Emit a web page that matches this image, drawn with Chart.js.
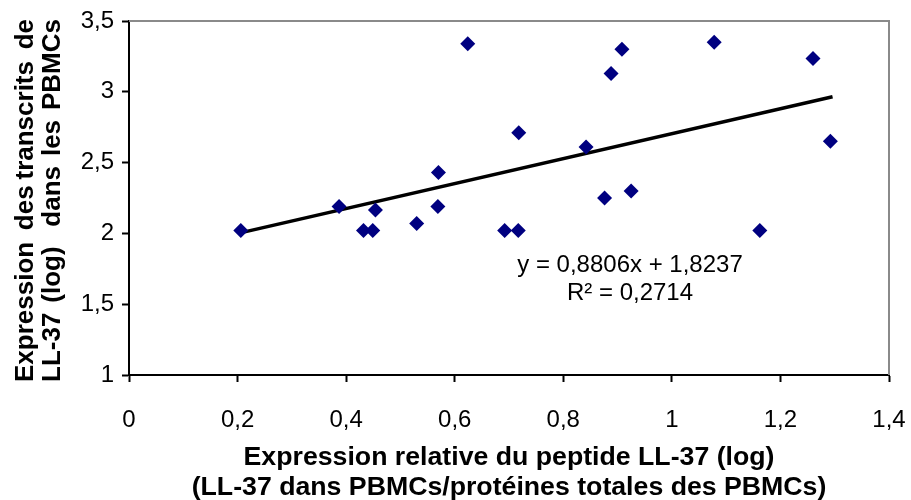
<!DOCTYPE html>
<html>
<head>
<meta charset="utf-8">
<script src="https://cdn.jsdelivr.net/npm/chart.js@4/dist/chart.umd.min.js"></script>
<style>
  html, body { margin: 0; padding: 0; background: #fff; }
  #wrap { width: 911px; height: 500px; }
</style>
</head>
<body>
<div id="wrap"><canvas id="chart"></canvas></div>
<script>
// données
const peptideLog = [0.206, 0.387, 0.432, 0.449, 0.454, 0.530, 0.569, 0.570, 0.624, 0.692, 0.717,
                    0.718, 0.842, 0.876, 0.888, 0.908, 0.925, 1.078, 1.162, 1.260, 1.292];
const transcritsLog = [2.02, 2.19, 2.02, 2.02, 2.165, 2.07, 2.19, 2.43, 3.34, 2.02, 2.02,
                       2.71, 2.61, 2.25, 3.13, 3.30, 2.30, 3.35, 2.02, 3.235, 2.65];
// courbe de tendance (extrémités)
const trendX = [0.205, 1.296];
const trendY = [2.004, 2.965];
const equationLines = ['y = 0,8806x + 1,8237', 'R\u00b2 = 0,2714'];
const xTitleLines = ['Expression relative du peptide LL-37 (log)', '(LL-37 dans PBMCs/prot\u00e9ines totales des PBMCs)'];
const yTitleLines = [['Expression', 'des', 'transcrits', 'de'], ['LL-37', '(log)', 'dans', 'les', 'PBMCs']];
const yTitleGaps = [[2, 1, 2], [1, 2, 1, 1]];

const FONT = '"Liberation Sans", Arial, sans-serif';
const fmt = v => String(v).replace('.', ',');

const points = peptideLog.map((x, i) => ({ x: x, y: transcritsLog[i] }));
const trend = trendX.map((x, i) => ({ x: x, y: trendY[i] }));

// textes, cadre et titres des axes
const decor = {
    id: 'decor',
    afterDraw(chart) {
        const ctx = chart.ctx;
        const a = chart.chartArea;
        ctx.save();
        // cadre gris haut/droite
        ctx.strokeStyle = '#8a8a8a';
        ctx.lineWidth = 2;
        ctx.beginPath();
        ctx.moveTo(a.left, a.top);
        ctx.lineTo(a.right, a.top);
        ctx.lineTo(a.right, a.bottom);
        ctx.stroke();

        ctx.fillStyle = '#000';
        // équation
        ctx.font = '24px ' + FONT;
        ctx.textAlign = 'center';
        ctx.textBaseline = 'alphabetic';
        ctx.fillText(equationLines[0], 630, 272);
        ctx.fillText(equationLines[1], 630, 300);

        // titre axe x
        ctx.font = 'bold 26.7px ' + FONT;
        ctx.fillText(xTitleLines[0], 509, 465);
        ctx.fillText(xTitleLines[1], 509, 495);

        // titre axe y (justifié)
        const baseX = [33, 60];
        const startY = 382, endY = 19;
        ctx.font = 'bold 26px ' + FONT;
        ctx.textAlign = 'left';
        yTitleLines.forEach((words, li) => {
            const widths = words.map(w => ctx.measureText(w).width);
            const total = widths.reduce((s, w) => s + w, 0);
            const gapUnits = yTitleGaps[li].reduce((s, g) => s + g, 0);
            const unit = ((startY - endY) - total) / gapUnits;
            ctx.save();
            ctx.translate(baseX[li], startY);
            ctx.rotate(-Math.PI / 2);
            let pos = 0;
            words.forEach((w, wi) => {
                ctx.fillText(w, pos, 0);
                pos += widths[wi];
                if (wi < yTitleGaps[li].length) pos += unit * yTitleGaps[li][wi];
            });
            ctx.restore();
        });
        ctx.restore();
    }
};

new Chart(document.getElementById('chart'), {
    type: 'scatter',
    data: {
        datasets: [
            {
                label: 'points',
                data: points,
                pointStyle: 'rectRot',
                pointRadius: 7.5,
                pointBackgroundColor: '#000080',
                pointBorderColor: '#000080',
                pointBorderWidth: 0,
                order: 1
            },
            {
                type: 'line',
                label: 'tendance',
                data: trend,
                borderColor: '#000',
                borderWidth: 3.5,
                pointRadius: 0,
                fill: false,
                order: 2
            }
        ]
    },
    options: {
        responsive: true,
        maintainAspectRatio: false,
        animation: false,
        layout: { padding: { left: 0, top: 21, right: 22, bottom: 0 } },
        plugins: { legend: { display: false }, tooltip: { enabled: false } },
        scales: {
            x: {
                type: 'linear',
                min: 0, max: 1.4,
                afterFit(s) { s.height = 125; s.paddingLeft = 0; s.paddingRight = 0; },
                border: { display: true, color: '#000', width: 2 },
                grid: { display: true, drawOnChartArea: false, drawTicks: true, tickLength: 7, tickWidth: 2, tickColor: '#000' },
                ticks: {
                    stepSize: 0.2,
                    padding: 24,
                    color: '#000',
                    font: { family: FONT, size: 24 },
                    maxRotation: 0,
                    callback: v => fmt(Math.round(v * 10) / 10)
                }
            },
            y: {
                type: 'linear',
                min: 1, max: 3.5,
                afterFit(s) { s.width = 129; s.paddingTop = 0; s.paddingBottom = 0; },
                border: { display: true, color: '#000', width: 2 },
                grid: { display: true, drawOnChartArea: false, drawTicks: true, tickLength: 7, tickWidth: 2, tickColor: '#000' },
                ticks: {
                    stepSize: 0.5,
                    padding: 8,
                    color: '#000',
                    font: { family: FONT, size: 24 },
                    callback: v => fmt(Math.round(v * 10) / 10)
                }
            }
        }
    },
    plugins: [decor]
});
</script>
</body>
</html>
